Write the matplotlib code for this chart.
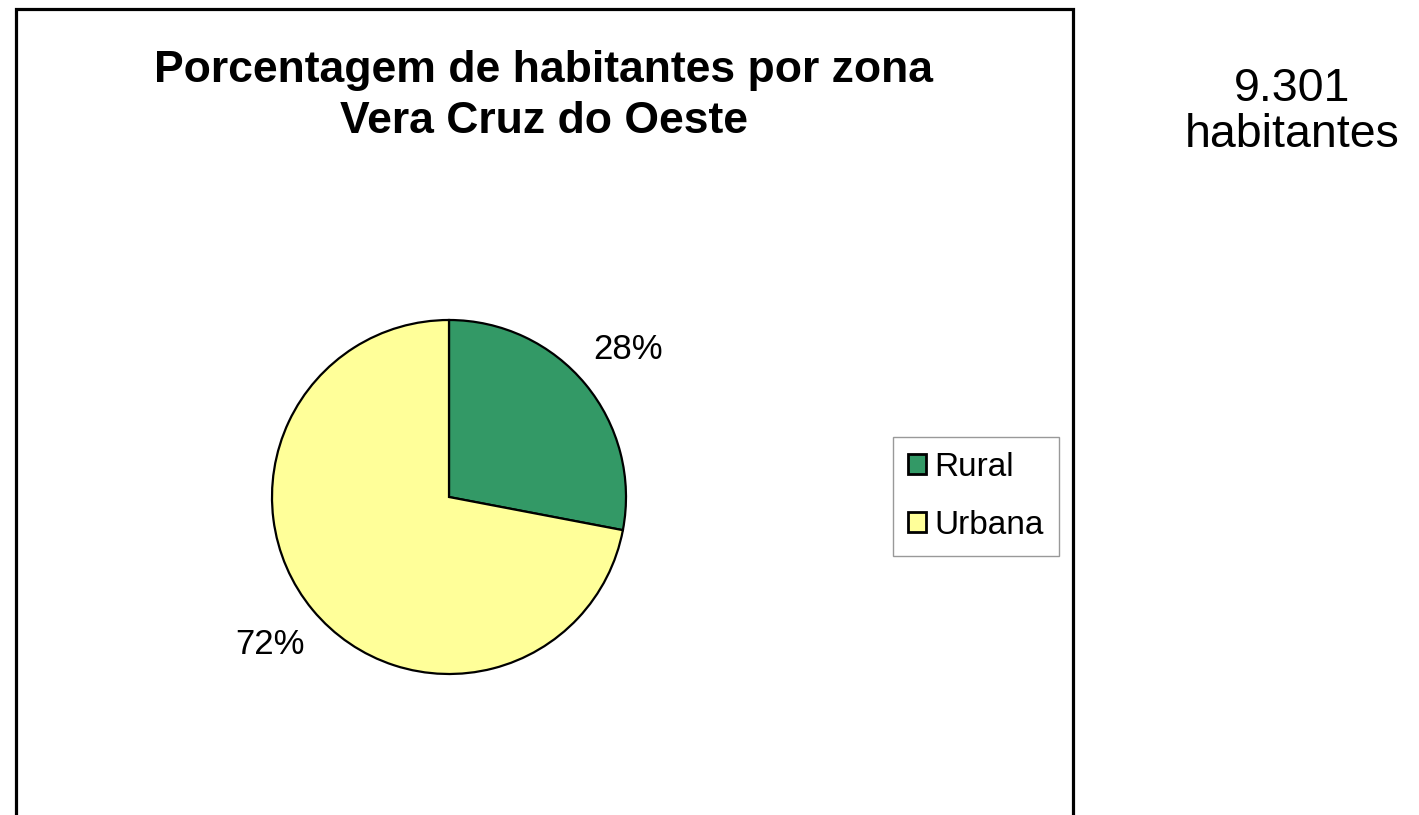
#!/usr/bin/env python3
import matplotlib
matplotlib.use("Agg")
import matplotlib.pyplot as plt
from matplotlib.patches import Rectangle

plt.rcParams["font.family"] = ["Liberation Sans", "DejaVu Sans"]

# Data
zonas = ["Rural", "Urbana"]
porcentagens = [28, 72]
cores = ["#339966", "#FFFF99"]
titulo = "Porcentagem de habitantes por zona\nVera Cruz do Oeste"
total_txt = "9.301\nhabitantes"

W, H = 1419, 815
fig = plt.figure(figsize=(W / 100, H / 100), dpi=100)
fig.patch.set_facecolor("white")

# outer chart frame (open at the bottom)
fig.patches.append(Rectangle((15.5 / W, -0.05), (1072.5 - 15.5) / W, 1.05 - 9 / H,
                             transform=fig.transFigure, fill=False,
                             edgecolor="black", linewidth=2.3))

# pie axes: center (449, 497), radius 177 px
cx, cy, r = 449, 497, 177
ax = fig.add_axes([(cx - r) / W, (H - cy - r) / H, 2 * r / W, 2 * r / H])
wedges, _, autotexts = ax.pie(
    porcentagens, colors=cores, startangle=90, counterclock=False,
    autopct="%d%%", pctdistance=1.31,
    wedgeprops=dict(edgecolor="black", linewidth=1.6),
    textprops=dict(fontsize=25, color="black"))
ax.set_xlim(-1, 1)
ax.set_ylim(-1, 1)
ax.set_aspect("equal")
ax.axis("off")

fig.text(544 / W, 1 - 96 / H, titulo, ha="center", va="center",
         fontsize=32, fontweight="bold", linespacing=1.33)

fig.text(1292 / W, 1 - 112 / H, total_txt, ha="center", va="center",
         fontsize=33.5, linespacing=1.05)

leg = fig.legend(wedges, zonas, loc="upper left",
                 bbox_to_anchor=(893 / W, 1 - 437 / H),
                 fontsize=24, frameon=True, fancybox=False,
                 edgecolor="#808080", handlelength=0.55, handleheight=0.55,
                 handletextpad=0.25, labelspacing=0.8, borderpad=0.45,
                 borderaxespad=0)
leg.get_frame().set_linewidth(1.0)
for h in leg.legend_handles:
    h.set_linewidth(2.0)

fig.savefig("out.png", dpi=100, facecolor="white")
